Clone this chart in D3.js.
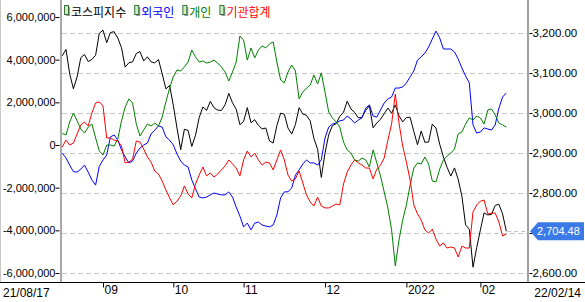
<!DOCTYPE html>
<html>
<head>
<meta charset="utf-8">
<script src="https://cdn.jsdelivr.net/npm/d3@7"></script>
<style>
  body { margin: 0; background: #fff; }
  svg { display: block; font-family: "Liberation Sans", Arial, sans-serif; font-size: 12px; }
</style>
</head>
<body>
<svg id="chart" width="585" height="302"></svg>
<script>
// trading days shown on the chart
const monthDays = [
  ['2021-08', [17, 18, 19, 20, 23, 24, 25, 26, 27, 30, 31]],
  ['2021-09', [1, 2, 3, 6, 7, 8, 9, 10, 13, 14, 15, 16, 17, 23, 24, 27, 28, 29, 30]],
  ['2021-10', [1, 5, 6, 7, 8, 12, 13, 14, 15, 18, 19, 20, 21, 22, 25, 26, 27, 28, 29]],
  ['2021-11', [1, 2, 3, 4, 5, 8, 9, 10, 11, 12, 15, 16, 17, 18, 19, 22, 23, 24, 25, 26, 29, 30]],
  ['2021-12', [1, 2, 3, 6, 7, 8, 9, 10, 13, 14, 15, 16, 17, 20, 21, 22, 23, 24, 27, 28, 29, 30]],
  ['2022-01', [3, 4, 5, 6, 7, 10, 11, 12, 13, 14, 17, 18, 19, 20, 21, 24, 25, 26, 27, 28]],
  ['2022-02', [3, 4, 7, 8, 9, 10, 11, 14]]
];
const dates = monthDays.flatMap(([m, ds]) => ds.map(d => m + '-' + String(d).padStart(2, '0')));

const monthTicks = ['2021-09-01', '2021-10-01', '2021-11-01', '2021-12-01', '2022-01-03', '2022-02-03'];
const monthLabels = ['09', '10', '11', '12', '2022', '02'];
const startLabel = '21/08/17';
const endLabel = '22/02/14';

const leftTicks = [-6000000, -4000000, -2000000, 0, 2000000, 4000000, 6000000];
const rightTicks = [2600, 2700, 2800, 2900, 3000, 3100, 3200];

// KOSPI close (right axis)
const kospi = [
  3143.09, 3158.93, 3097.83, 3060.51, 3090.21, 3138.30, 3146.37, 3128.53, 3133.90, 3144.19, 3199.27,
  3207.02, 3175.85, 3201.06, 3203.33, 3187.42, 3162.99, 3114.70, 3125.76, 3127.86, 3148.83,
  3153.40, 3130.09, 3140.51, 3127.58, 3125.24, 3133.64, 3097.92, 3060.27, 3068.82,
  3019.18, 2962.17, 2908.31, 2959.46, 2956.30, 2916.38, 2944.41, 2988.64, 3015.06, 3006.68,
  3029.04, 3013.13, 3007.33, 3006.16, 3020.54, 3049.08, 3025.49, 3009.55, 2970.68,
  2978.94, 3013.49, 2975.71, 2983.22, 2969.27, 2960.20, 2962.46, 2930.17, 2924.92, 2968.80,
  2999.52, 2997.21, 2962.42, 2947.38, 2971.02, 3013.25, 2997.33, 2994.29, 2980.27, 2936.44,
  2909.32, 2839.01,
  2899.72, 2945.27, 2968.33, 2973.25, 2991.72, 3001.80, 3029.57, 3010.23, 3001.66, 2987.95,
  2989.39, 3006.41, 3017.74, 2963.00, 2975.03, 2984.48, 2998.17, 3012.43, 2999.55, 3020.24,
  2993.29, 2977.65,
  2988.77, 2989.24, 2953.97, 2920.53, 2954.89, 2926.72, 2927.38, 2972.48, 2962.09, 2921.92,
  2890.10, 2864.24, 2842.28, 2862.68, 2834.29, 2792.00, 2720.39, 2709.24, 2614.49, 2663.34,
  2707.82, 2750.26, 2745.06, 2746.47, 2768.85, 2771.93, 2747.71, 2704.48
];

// cumulative net buying (left axis)
const foreign = [
  -380000, -610000, -940000, -1250000, -1270000, -1130000, -940000, -1270000, -1640000, -1880000,
  -1000000, -700000, -470000, 380000, 470000, 230000, -230000, -560000, -840000, -750000,
  -380000, -140000, 0, 90000, 520000, 700000, 890000, 840000, 380000, 230000,
  0, -420000, -750000, -940000, -1030000, -1640000, -2060000, -2440000, -2480000, -2440000,
  -2340000, -2250000, -2300000, -2340000, -2340000, -2200000, -2440000, -2910000, -3330000, -3840000,
  -3660000, -3980000, -3660000, -3610000, -3750000, -3800000, -3840000, -3750000, -3280000, -2480000,
  -2200000, -2190000, -2020000, -1410000, -1170000, -890000, -700000, -840000, -840000, -940000,
  -700000, 330000, 840000, 980000, 1030000, 1130000, 1170000, 1360000, 1220000, 1030000,
  1170000, 1270000, 1730000, 1880000, 1360000, 1310000, 1640000, 1970000, 2160000, 2250000,
  2670000, 2670000, 2720000, 2910000, 3190000, 3470000, 3980000, 4130000, 4310000, 4590000,
  4970000, 5340000, 5020000, 4500000, 4500000, 4500000, 4360000, 4030000, 3610000, 3230000,
  2910000, 940000, 560000, 610000, 800000, 750000, 700000, 940000, 1730000, 2250000,
  2440000
];
const individual = [
  540000, 470000, 1080000, 1500000, 1130000, 750000, 560000, 840000, 980000, 330000,
  -280000, -470000, 0, 0, -50000, 280000, 1130000, 1780000, 2160000, 1970000,
  980000, 420000, 700000, 980000, 890000, 1030000, 890000, 1310000, 2020000, 2670000,
  3190000, 3520000, 3470000, 3660000, 3890000, 4450000, 4130000, 3890000, 3940000, 3840000,
  3890000, 3980000, 3840000, 3660000, 3420000, 3000000, 3420000, 3890000, 5110000, 4920000,
  3980000, 4550000, 4080000, 4450000, 4640000, 4550000, 4740000, 4830000, 3890000, 3050000,
  2910000, 3420000, 3750000, 3470000, 2160000, 2480000, 2670000, 2810000, 3280000, 2860000,
  3380000, 2480000, 1550000, 1270000, 1080000, 840000, 140000, -230000, -380000, -700000,
  -750000, -610000, -700000, -1030000, -230000, -840000, -1450000, -2200000, -2950000, -3980000,
  -5670000, -4450000, -3520000, -2810000, -1880000, -1080000, -840000, -890000, -560000, -890000,
  -1690000, -1730000, -1130000, -700000, -520000, -380000, -190000, 520000, 610000, 980000,
  1270000, 1170000, 1360000, 1270000, 980000, 1640000, 1690000, 1410000, 1030000, 940000,
  840000
];
const institution = [
  -90000, 230000, 0, 90000, 520000, 940000, 1080000, 890000, 1500000, 1970000,
  2020000, 1830000, 330000, 330000, 230000, 190000, -50000, -840000, -800000, -660000,
  190000, 140000, -190000, -560000, -800000, -1220000, -1360000, -1690000, -2110000, -2480000,
  -2810000, -2630000, -2390000, -1920000, -2300000, -2480000, -1830000, -1410000, -1030000, -1450000,
  -1310000, -1500000, -1360000, -1170000, -980000, -700000, -890000, -1080000, -1450000, -700000,
  -280000, -560000, -380000, -700000, -940000, -800000, -840000, -1170000, -700000, -230000,
  -700000, -1410000, -1690000, -1590000, -1220000, -1780000, -2340000, -2670000, -2860000, -2440000,
  -2860000, -2950000, -2950000, -2860000, -2770000, -2810000, -1830000, -1270000, -940000, -700000,
  -840000, -940000, -1080000, -1080000, -1590000, -1130000, -940000, -610000, 230000, 980000,
  2390000, 1030000, -50000, -800000, -1640000, -2810000, -3230000, -3520000, -3980000, -4130000,
  -3940000, -4410000, -4740000, -4590000, -4830000, -4780000, -4830000, -5250000, -4740000, -4830000,
  -4830000, -3140000, -2810000, -2630000, -2580000, -3230000, -3190000, -3190000, -3610000, -4270000,
  -4170000
];

const series = [
  { name: '코스피지수', color: '#000000', values: kospi, axis: 'right' },
  { name: '외국인', color: '#0000ff', values: foreign, axis: 'left' },
  { name: '개인', color: '#008000', values: individual, axis: 'left' },
  { name: '기관합계', color: '#ff0000', values: institution, axis: 'left' }
];

const plot = { left: 61, right: 528, top: 0, bottom: 282 };
const svg = d3.select('#chart');

const x = d3.scalePoint().domain(dates).range([62.3, 506.3]);
const yLeft = d3.scaleLinear().domain([-6000000, 6000000]).range([273, 17]);
const yRight = d3.scaleLinear().domain([2600, 3200]).range([273, 33]);

const fmtLeft = d => (d < 0 ? '-' : '') + d3.format(',')(Math.abs(d));
const lastIdx = kospi.length - 1;

// outer left edge
svg.append('line')
  .attr('x1', 0.5).attr('x2', 0.5).attr('y1', 0).attr('y2', plot.bottom)
  .attr('stroke', '#c8c8c8');

// dashed grid at right axis ticks
svg.append('g')
  .selectAll('line')
  .data(rightTicks)
  .enter()
  .append('line')
  .attr('x1', plot.left + 1).attr('x2', plot.right)
  .attr('y1', d => Math.round(yRight(d)) + 0.5)
  .attr('y2', d => Math.round(yRight(d)) + 0.5)
  .attr('stroke', '#c8c8c8')
  .attr('stroke-dasharray', '5,3');

// left axis
const leftG = svg.append('g').attr('transform', 'translate(59.5,0)');
leftG.call(d3.axisLeft(yLeft).tickValues(d3.range(-6000000, 6000001, 500000)).tickSize(2).tickFormat(''));
leftG.call(d3.axisLeft(yLeft).tickValues(leftTicks).tickSize(4).tickFormat(fmtLeft));
leftG.selectAll('.domain').remove();
leftG.selectAll('text').attr('x', -4).attr('fill', '#000')
  .style('font-family', '"Liberation Sans", Arial, sans-serif').style('font-size', '11px');
leftG.selectAll('line').attr('stroke', '#000');

// right axis (the 2,700 label sits under the value tag)
const rightG = svg.append('g').attr('transform', 'translate(529.5,0)');
rightG.call(d3.axisRight(yRight).tickValues(d3.range(2600, 3201, 25)).tickSize(2).tickFormat(''));
rightG.call(d3.axisRight(yRight).tickValues(rightTicks).tickSize(3)
  .tickFormat(d => Math.abs(yRight(d) - yRight(kospi[lastIdx])) < 12 ? '' : d3.format(',.2f')(d)));
rightG.selectAll('.domain').remove();
rightG.selectAll('text').attr('x', 3).attr('fill', '#000')
  .style('font-family', '"Liberation Sans", Arial, sans-serif').style('font-size', '11.5px');
rightG.selectAll('line').attr('stroke', '#000');

// axis frame lines
svg.append('rect').attr('x', 60).attr('y', 0).attr('width', 2).attr('height', plot.bottom).attr('fill', '#a8a8a8');
svg.append('rect').attr('x', 527).attr('y', 0).attr('width', 2).attr('height', plot.bottom).attr('fill', '#a0a0a0');

// bottom axis
const bottomG = svg.append('g').attr('transform', 'translate(0,' + (plot.bottom + 0.5) + ')');
bottomG.call(d3.axisBottom(x).tickValues(monthTicks).tickSize(5).tickFormat((d, i) => monthLabels[i]));
bottomG.select('.domain').remove();
bottomG.append('line').attr('x1', 0).attr('x2', 585).attr('stroke', '#000');
bottomG.selectAll('.tick line').attr('stroke', '#000');
bottomG.selectAll('.tick text')
  .attr('x', 1).attr('y', 3).attr('dy', '0.71em')
  .attr('text-anchor', 'start').attr('fill', '#000')
  .style('font-family', '"Liberation Sans", Arial, sans-serif').style('font-size', '12px');
svg.append('text').attr('x', 3).attr('y', 297).text(startLabel);
svg.append('text').attr('x', 581).attr('y', 297).attr('text-anchor', 'end').text(endLabel);

// lines
svg.append('clipPath').attr('id', 'clip')
  .append('rect').attr('x', plot.left + 1).attr('y', plot.top)
  .attr('width', plot.right - plot.left - 2).attr('height', plot.bottom - plot.top);

const linesG = svg.append('g').attr('clip-path', 'url(#clip)');
series.forEach(s => {
  const yScale = s.axis === 'right' ? yRight : yLeft;
  const line = d3.line()
    .x((d, i) => x(dates[i]))
    .y(d => yScale(d));
  linesG.append('path')
    .datum(s.values)
    .attr('d', line)
    .attr('fill', 'none')
    .attr('stroke', s.color)
    .attr('stroke-width', 1)
    .attr('stroke-linejoin', 'round');
});

// current value marker
const lastY = yRight(kospi[lastIdx]);
svg.append('line')
  .attr('x1', x(dates[lastIdx]) + 1).attr('x2', plot.right - 1)
  .attr('y1', Math.round(lastY) + 0.5).attr('y2', Math.round(lastY) + 0.5)
  .attr('stroke', '#c0c0c0').attr('stroke-dasharray', '4,3');
svg.append('path')
  .attr('d', `M530,${lastY} L538,${lastY - 9} L584,${lastY - 9} L584,${lastY + 9} L538,${lastY + 9} Z`)
  .attr('fill', '#3b7ae6');
svg.append('text')
  .attr('x', 537).attr('y', lastY + 4)
  .attr('fill', '#fff')
  .style('font-size', '11px')
  .text(d3.format(',.2f')(kospi[lastIdx]));

// legend
const legend = svg.append('g')
  .style('font-family', '"Noto Sans CJK KR", sans-serif').style('font-size', '12px');
let lx = 64;
series.forEach(s => {
  legend.append('rect').attr('x', lx + 2).attr('y', 7).attr('width', 4).attr('height', 9).attr('fill', '#9a9a9a');
  legend.append('rect').attr('x', lx + 0.5).attr('y', 5.5).attr('width', 4).attr('height', 9)
    .attr('fill', '#c8f0c0').attr('stroke', '#3c6e3c');
  const t = legend.append('text').attr('x', lx + 7).attr('y', 17).attr('fill', s.color).text(s.name);
  lx = lx + 7 + t.node().getComputedTextLength() + 8;
});
</script>
</body>
</html>
